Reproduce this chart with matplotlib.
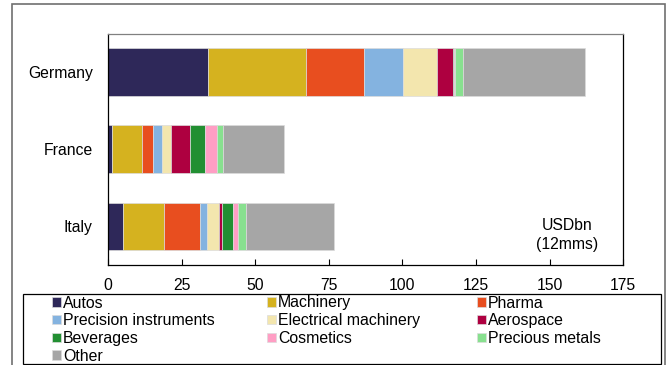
import matplotlib.pyplot as plt
from matplotlib.patches import Rectangle
import numpy as np

plt.rcParams['font.family'] = ['Liberation Sans', 'DejaVu Sans']

# exports, USDbn over 12 months
countries = ["Germany", "France", "Italy"]
sectors = ["Autos", "Machinery", "Pharma", "Precision instruments",
           "Electrical machinery", "Aerospace", "Beverages", "Cosmetics",
           "Precious metals", "Other"]
germany = [34.1, 33.0, 19.7, 13.3, 11.8, 5.2, 0.3, 0.3, 2.8, 41.6]
france = [1.2, 10.2, 3.9, 2.9, 3.2, 6.3, 5.1, 4.2, 2.2, 20.7]
italy = [5.1, 13.8, 12.3, 2.5, 3.9, 1.2, 3.5, 2.0, 2.7, 29.7]
colors = ["#2E2859", "#D5B21F", "#E84E1F", "#84B3E0", "#F3E6AE",
          "#AE0040", "#228F32", "#FF9EC4", "#88E08F", "#A6A6A6"]

W, H = 667, 365
fig = plt.figure(figsize=(W / 100, H / 100), dpi=100)

# outer frame
fig.patches.append(Rectangle((11.7 / W, -0.05), (665 - 11.7) / W, 1.05 - 4.3 / H,
                             transform=fig.transFigure, fill=False,
                             edgecolor="#707070", linewidth=1.2))

ax = fig.add_axes([108 / W, 1 - 265 / H, (623.3 - 108) / W, (265 - 33.7) / H])

data = np.array([germany, france, italy])
ypos = np.array([2, 1, 0])
left = np.zeros(len(countries))
handles = []
for i, name in enumerate(sectors):
    b = ax.barh(ypos, data[:, i], left=left, height=0.62, color=colors[i],
                edgecolor="#dcdcdc", linewidth=0.5, label=name)
    handles.append(b)
    left += data[:, i]

ax.set_xlim(0, 175)
ax.set_ylim(-0.5, 2.5)
ax.set_xticks(range(0, 176, 25))
ax.set_yticks(ypos)
ax.set_yticklabels(countries)
ax.tick_params(axis="x", direction="in", length=4, width=0.8, pad=9.5, labelsize=11.3)
ax.tick_params(axis="y", length=0, pad=11, labelsize=11.3)
for s in ax.spines.values():
    s.set_linewidth(0.9)
ax.spines["top"].set_color("#808080")

ax.text(0.891, 0.13, "USDbn\n(12mms)", transform=ax.transAxes,
        ha="center", va="center", fontsize=11.3, linespacing=1.4)

# legend box, filled row by row in three columns
fig.patches.append(Rectangle((22.7 / W, 1 - 364 / H), (661 - 22.7) / W, (364 - 294) / H,
                             transform=fig.transFigure, fill=False,
                             edgecolor="black", linewidth=0.9))
col_x = [52, 267, 477]
for c, x in enumerate(col_x):
    idx = list(range(c, len(sectors), 3))
    leg = fig.legend([handles[k] for k in idx], [sectors[k] for k in idx],
                     loc="upper left", bbox_to_anchor=(x / W, 1 - 295.5 / H),
                     frameon=False, fontsize=11.4, borderpad=0, borderaxespad=0,
                     handlelength=0.55, handleheight=0.55, handletextpad=0.15,
                     labelspacing=0.17)

fig.savefig("out.png", dpi=100)
